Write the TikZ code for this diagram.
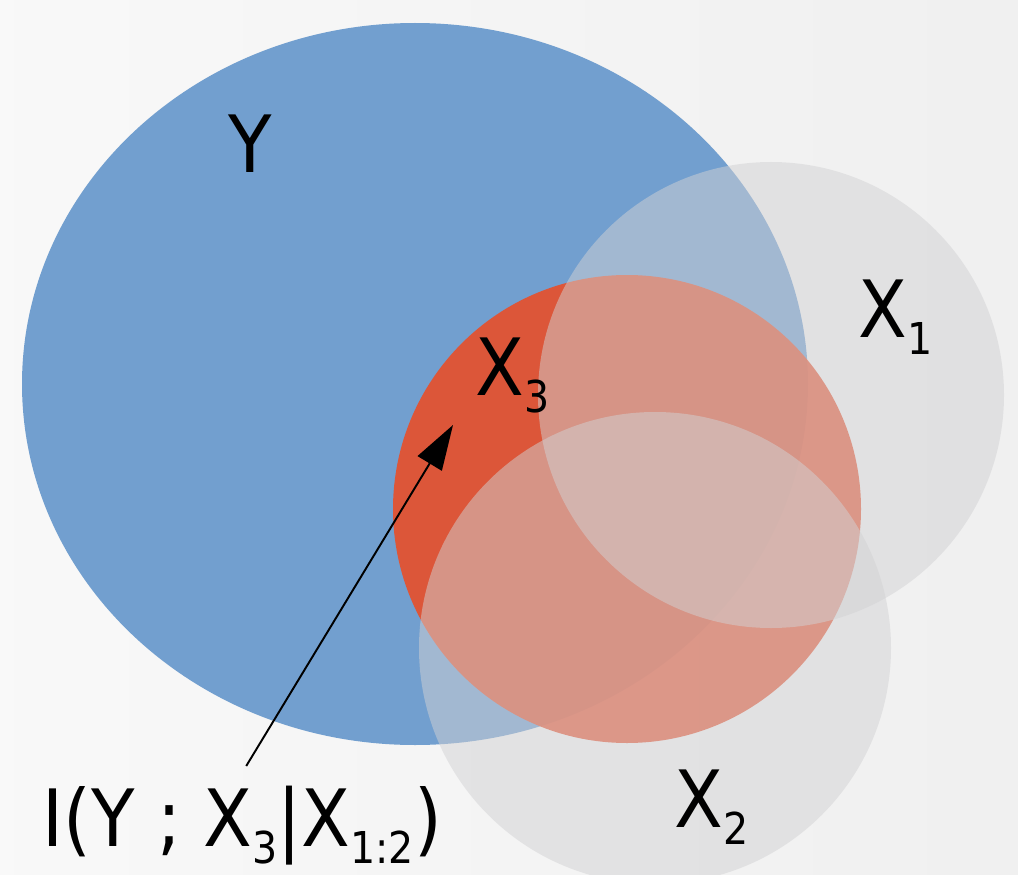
\documentclass[tikz,border=0pt]{standalone}
\usepackage{fontspec}
\setmainfont{DejaVu Sans}[FakeStretch=0.9]
\usetikzlibrary{arrows.meta}

\definecolor{ysky}{RGB}{114,159,207}
\definecolor{xred}{RGB}{230,80,45}
\definecolor{xgray}{RGB}{210,210,212}
\newcommand{\lsub}[1]{\raisebox{-0.22em}{\fontsize{25}{28}\selectfont #1}}

\begin{document}
\begin{tikzpicture}[x=0.02cm,y=-0.02cm,
  lbl/.style={inner sep=0pt,anchor=base west,font=\fontsize{45}{52}\selectfont},
  setx/.style={fill=xgray,fill opacity=0.5},
  pointer/.style={-{Triangle[length=0.9cm,width=0.56cm]},line width=1.1pt,shorten <=0.45cm}]
\useasboundingbox (0,0) rectangle (1018,875);
\clip (0,0) rectangle (1018,875);
\shade[left color=gray!5,right color=gray!12] (0,0) rectangle (1018,875);
% sets
\fill[ysky] (415,384) ellipse (393 and 361);
\fill[xred,fill opacity=0.92] (627,509) circle (234);
\fill[setx] (771,395) circle (233);
\fill[setx] (655,648) circle (236);
% labels
\node[lbl] (ylbl) at (228,173) {Y};
\node[lbl] (x1lbl) at (858,337) {X\lsub{1}};
\node[lbl] (x2lbl) at (674,827) {X\lsub{2}};
\node[lbl] (x3lbl) at (475,395) {X\lsub{3}};
\node[lbl] (info) at (42,846) {I(Y ; X\lsub{3}|X\lsub{1:2})};
\coordinate (tip) at (453,425);
\draw[pointer] ([xshift=-0.15cm]info.north) -- (tip);
\end{tikzpicture}
\end{document}
